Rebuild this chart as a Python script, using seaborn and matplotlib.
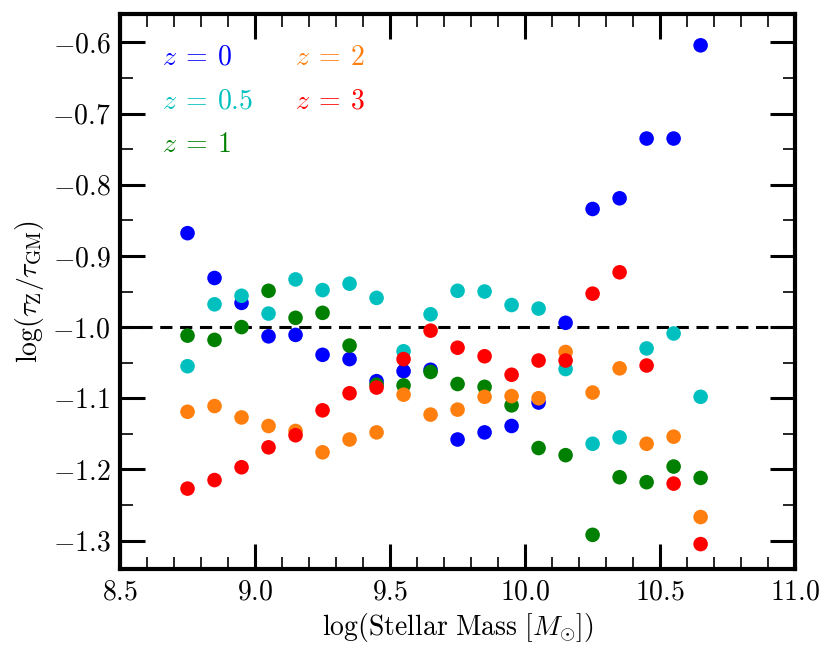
import numpy as np
import pandas as pd
import seaborn as sns
import matplotlib
matplotlib.use('Agg')
import matplotlib.pyplot as plt

mass_bins = [8.75, 8.85, 8.95, 9.05, 9.15, 9.25, 9.35, 9.45, 9.55, 9.65,
             9.75, 9.85, 9.95, 10.05, 10.15, 10.25, 10.35, 10.45, 10.55, 10.65]

z0 = [-0.868, -0.931, -0.966, -1.013, -1.011, -1.039, -1.045, -1.076, -1.062, -1.060,
      -1.158, -1.148, -1.139, -1.106, -0.994, -0.834, -0.819, -0.735, -0.735, -0.604]
z05 = [-1.055, -0.968, -0.956, -0.981, -0.933, -0.948, -0.939, -0.959, -1.034, -0.982,
       -0.949, -0.950, -0.969, -0.974, -1.059, -1.164, -1.155, -1.030, -1.009, -1.098]
z1 = [-1.012, -1.018, -1.000, -0.949, -0.987, -0.980, -1.026, -1.081, -1.082, -1.063,
      -1.080, -1.084, -1.110, -1.170, -1.180, -1.292, -1.211, -1.218, -1.196, -1.212]
z2 = [-1.119, -1.111, -1.127, -1.139, -1.146, -1.176, -1.158, -1.148, -1.095, -1.123,
      -1.116, -1.098, -1.097, -1.100, -1.035, -1.092, -1.058, -1.164, -1.154, -1.267]
z3 = [-1.227, -1.215, -1.197, -1.169, -1.152, -1.117, -1.093, -1.085, -1.045, -1.005,
      -1.029, -1.041, -1.067, -1.047, -1.047, -0.953, -0.923, -1.054, -1.220, -1.305]

labels = [r'$z\:=\:0$', r'$z\:=\:0.5$', r'$z\:=\:1$', r'$z\:=\:2$', r'$z\:=\:3$']
colors = ['#0000ff', '#00bfbf', '#008000', '#ff7f0e', '#ff0000']

frames = []
for lab, vals in zip(labels, [z0, z05, z1, z2, z3]):
    frames.append(pd.DataFrame({'mass': mass_bins, 'ratio': vals, 'z': lab}))
df = pd.concat(frames, ignore_index=True)

sns.set_style('ticks')
plt.rcParams['font.family'] = 'serif'
plt.rcParams['font.serif'] = ['cmr10', 'DejaVu Serif']
plt.rcParams['mathtext.fontset'] = 'cm'
plt.rcParams['axes.formatter.use_mathtext'] = True
plt.rcParams['axes.unicode_minus'] = True
plt.rcParams['axes.edgecolor'] = 'black'
plt.rcParams['xtick.color'] = 'black'
plt.rcParams['ytick.color'] = 'black'
plt.rcParams['axes.labelcolor'] = 'black'
plt.rcParams['text.color'] = 'black'

fig = plt.figure(figsize=(8.3, 6.55), dpi=100)
ax = fig.add_axes([0.1446, 0.1313, 0.8134, 0.8473])

ax.axhline(-1.0, color='k', ls='--', lw=2.2, dashes=(4, 2.5), zorder=1)
sns.scatterplot(data=df, x='mass', y='ratio', hue='z', palette=colors,
                s=110, edgecolor='none', ax=ax, zorder=2)

ax.set_xlim(8.5, 11.0)
ax.set_ylim(-1.34, -0.56)
ax.set_xticks([8.5, 9.0, 9.5, 10.0, 10.5, 11.0])
ax.set_yticks([-1.3, -1.2, -1.1, -1.0, -0.9, -0.8, -0.7, -0.6])
ax.set_xticks(np.arange(8.5, 11.0001, 0.1), minor=True)
ax.set_yticks(np.arange(-1.3, -0.55, 0.05), minor=True)
ax.tick_params(which='both', direction='in', top=True, right=True, labelsize=20, pad=7)
ax.tick_params(which='major', length=18, width=2.2)
ax.tick_params(which='minor', length=9, width=1.2)
for sp in ax.spines.values():
    sp.set_linewidth(3)
    sp.set_visible(True)

ax.set_xlabel(r'$\log(\mathrm{Stellar\ Mass}\ [M_{\odot}])$', fontsize=20)
ax.set_ylabel(r'$\log(\tau_{\rm Z}/\tau_{\rm GM})$', fontsize=20)

handles, labs = ax.get_legend_handles_labels()
leg = ax.legend(handles, labs, ncol=2, loc='upper left', frameon=False,
                fontsize=20, handlelength=0, handletextpad=0,
                columnspacing=1.5, labelspacing=0.62,
                bbox_to_anchor=(0.025, 0.99))
for h in leg.legend_handles:
    h.set_visible(False)
for t, c in zip(leg.get_texts(), colors):
    t.set_color(c)

fig.savefig('out.png', dpi=100)
